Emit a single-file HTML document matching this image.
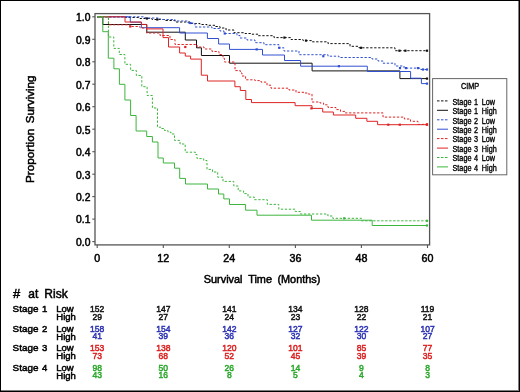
<!DOCTYPE html>
<html><head><meta charset="utf-8"><style>
html,body{margin:0;padding:0;background:#fff;}
#c{position:relative;width:520px;height:392px;overflow:hidden;background:#fff;}
svg{position:absolute;left:0;top:0;filter:blur(0.5px);}
text{font-family:"Liberation Sans",sans-serif;fill:#000;stroke:#000;stroke-width:0.5px;}
.lg text{stroke-width:0.35px;}
</style></head><body><div id="c">
<svg width="520" height="392" viewBox="0 0 520 392">
<rect x="0.5" y="0.5" width="519" height="391" fill="#fff" stroke="#000" stroke-width="1"/>
<path d="M518.5 1V391M1 390.5H519" stroke="#000" stroke-width="1" opacity="0.5"/>
<g fill="none" stroke-width="1" stroke-linecap="butt">
<path d="M97.2 16.8H125.0V17.5H140.0V18.5H152.0V19.5H165.0V20.5H175.0V22.0H190.0V23.5H200.0V24.5H207.0V25.3H215.0V26.5H220.0V28.0H226.0V30.0H234.0V32.7H245.0V33.5H252.0V34.2H258.0V35.7H274.0V37.6H291.0V39.5H303.0V40.6H312.0V41.8H328.0V43.6H350.0V46.3H359.0V47.8H395.0V50.7H427.5" stroke="#111" stroke-dasharray="2.3 1.7"/>
<rect x="425.9" y="49.6" width="2.2" height="2.2" fill="#111" stroke="none"/>
<path d="M97.2 16.8H102.8V24.5H146.8V32.2H185.3V40.0H196.5V47.8H201.4V55.5H229.5V63.2H312.1V70.9H399.9V78.6H427.5" stroke="#111"/>
<rect x="425.9" y="77.5" width="2.2" height="2.2" fill="#111" stroke="none"/>
<path d="M97.2 16.8H145.0V18.0H160.0V19.5H175.0V21.0H188.0V23.0H195.0V27.0H212.0V28.5H220.0V31.0H224.0V33.5H237.0V35.5H240.0V38.0H247.0V40.0H255.0V42.7H264.0V44.7H279.0V47.8H284.0V51.0H299.0V54.7H328.0V56.2H339.0V57.5H372.0V59.0H378.0V61.0H383.0V63.2H395.0V66.0H404.0V68.1H420.0V69.5H427.5" stroke="#3050d0" stroke-dasharray="2.3 1.7"/>
<rect x="425.9" y="68.4" width="2.2" height="2.2" fill="#3050d0" stroke="none"/>
<path d="M97.2 16.8H130.3V22.2H141.4V27.7H179.6V33.0H207.4V38.5H218.6V44.0H229.5V49.4H262.5V55.0H284.5V60.5H300.6V66.2H367.3V71.5H410.6V78.2H421.4V83.6H427.5" stroke="#3050d0"/>
<rect x="425.9" y="82.5" width="2.2" height="2.2" fill="#3050d0" stroke="none"/>
<path d="M97.2 16.8H108.5V24.8H130.0V26.5H140.0V28.0H146.5V33.0H160.0V35.5H170.0V39.5H175.0V44.5H197.0V47.0H204.0V49.0H212.0V51.5H219.0V54.5H223.0V58.4H224.5V62.0H234.9V64.0H235.0V70.6H240.3V73.0H242.0V76.0H245.6V79.8H255.0V80.6H261.0V82.1H267.0V85.2H271.0V88.2H289.0V90.0H296.0V92.3H305.0V93.0H308.4V94.1H312.0V102.0H320.0V103.0H323.6V104.8H328.0V107.5H336.0V109.6H340.5V111.4H345.0V112.9H383.0V117.1H404.4V119.0H410.5V121.3H418.0V124.4H427.5" stroke="#de2424" stroke-dasharray="2.3 1.7"/>
<rect x="425.9" y="123.3" width="2.2" height="2.2" fill="#de2424" stroke="none"/>
<path d="M97.2 16.8H125.0V22.0H141.4V24.4H146.6V28.9H163.0V37.6H168.5V47.0H179.6V53.0H185.3V56.1H190.6V59.1H201.3V75.2H207.5V81.0H234.9V86.7H240.3V90.5H245.8V99.5H251.5V102.6H295.1V105.7H312.0V108.4H322.7V112.0H333.4V115.0H355.7V118.3H366.9V121.3H377.6V124.7H427.5" stroke="#de2424"/>
<rect x="425.9" y="123.6" width="2.2" height="2.2" fill="#de2424" stroke="none"/>
<path d="M97.2 16.8H108.4V37.0H113.8V48.4H119.3V54.5H124.9V64.3H130.6V70.4H136.3V75.5H141.8V86.7H147.1V95.5H152.4V108.0H157.5V127.2H161.5V128.5H164.5V130.5H168.0V132.2H171.0V134.0H174.5V140.4H180.0V144.0H185.2V152.2H195.5V154.5H197.0V158.6H203.7V160.5H207.0V169.4H212.5V172.0H217.7V177.2H223.0V181.4H233.8V186.0H238.2V190.9H243.6V193.6H248.0V197.1H254.3V199.7H267.3V204.4H278.8V209.2H295.2V211.5H300.4V214.0H327.9V216.0H332.7V218.3H361.4V220.8H427.5" stroke="#3db53d" stroke-dasharray="2.3 1.7"/>
<rect x="425.9" y="219.7" width="2.2" height="2.2" fill="#3db53d" stroke="none"/>
<path d="M97.2 16.8H102.8V31.7H108.3V58.2H113.9V68.8H119.4V84.3H124.9V100.0H130.6V115.5H136.1V131.0H146.7V136.5H152.4V142.0H158.0V158.0H163.3V163.0H174.5V168.2H179.7V178.4H185.5V184.0H207.5V189.0H218.5V194.0H223.8V198.9H229.5V204.5H245.6V210.2H257.0V215.2H311.5V220.2H372.2V225.5H427.5" stroke="#3db53d"/>
<rect x="425.9" y="224.4" width="2.2" height="2.2" fill="#3db53d" stroke="none"/>
<rect x="145.8" y="17.4" width="2.2" height="2.2" fill="#111" stroke="none"/>
<rect x="156.2" y="18.4" width="2.2" height="2.2" fill="#111" stroke="none"/>
<rect x="283.3" y="36.5" width="2.2" height="2.2" fill="#111" stroke="none"/>
<rect x="304.9" y="39.5" width="2.2" height="2.2" fill="#111" stroke="none"/>
<rect x="359.9" y="46.7" width="2.2" height="2.2" fill="#111" stroke="none"/>
<rect x="398.3" y="49.6" width="2.2" height="2.2" fill="#111" stroke="none"/>
<rect x="404.3" y="49.6" width="2.2" height="2.2" fill="#111" stroke="none"/>
<rect x="189.1" y="21.9" width="2.2" height="2.2" fill="#3050d0" stroke="none"/>
<rect x="223.7" y="32.4" width="2.2" height="2.2" fill="#3050d0" stroke="none"/>
<rect x="278.1" y="46.7" width="2.2" height="2.2" fill="#3050d0" stroke="none"/>
<rect x="322.2" y="55.1" width="2.2" height="2.2" fill="#3050d0" stroke="none"/>
<rect x="398.9" y="67.0" width="2.2" height="2.2" fill="#3050d0" stroke="none"/>
<rect x="404.9" y="67.0" width="2.2" height="2.2" fill="#3050d0" stroke="none"/>
<rect x="416.9" y="67.0" width="2.2" height="2.2" fill="#3050d0" stroke="none"/>
<rect x="421.9" y="68.4" width="2.2" height="2.2" fill="#3050d0" stroke="none"/>
<rect x="255.6" y="48.3" width="2.2" height="2.2" fill="#3050d0" stroke="none"/>
<rect x="337.8" y="65.1" width="2.2" height="2.2" fill="#3050d0" stroke="none"/>
<rect x="310.3" y="107.3" width="2.2" height="2.2" fill="#de2424" stroke="none"/>
<rect x="387.2" y="123.6" width="2.2" height="2.2" fill="#de2424" stroke="none"/>
<rect x="398.7" y="123.6" width="2.2" height="2.2" fill="#de2424" stroke="none"/>
<rect x="129.2" y="25.4" width="2.2" height="2.2" fill="#de2424" stroke="none"/>
<rect x="184.2" y="45.9" width="2.2" height="2.2" fill="#de2424" stroke="none"/>
<rect x="343.1" y="217.2" width="2.2" height="2.2" fill="#3db53d" stroke="none"/>
</g>
<rect x="95" y="13.6" width="334.6" height="231.3" fill="none" stroke="#555" stroke-width="1.3"/>
<g stroke="#555" stroke-width="1.1" fill="none">
<path d="M92.3 241.6H95"/>
<path d="M92.3 219.1H95"/>
<path d="M92.3 196.6H95"/>
<path d="M92.3 174.2H95"/>
<path d="M92.3 151.7H95"/>
<path d="M92.3 129.2H95"/>
<path d="M92.3 106.7H95"/>
<path d="M92.3 84.2H95"/>
<path d="M92.3 61.8H95"/>
<path d="M92.3 39.3H95"/>
<path d="M92.3 16.8H95"/>
<path d="M97.2 244.9V248"/>
<path d="M163.3 244.9V248"/>
<path d="M229.3 244.9V248"/>
<path d="M295.4 244.9V248"/>
<path d="M361.4 244.9V248"/>
<path d="M427.5 244.9V248"/>
</g>
<g font-size="10.3px">
<text x="90.4" y="245.9" text-anchor="end">0.0</text>
<text x="90.4" y="223.4" text-anchor="end">0.1</text>
<text x="90.4" y="200.9" text-anchor="end">0.2</text>
<text x="90.4" y="178.5" text-anchor="end">0.3</text>
<text x="90.4" y="156.0" text-anchor="end">0.4</text>
<text x="90.4" y="133.5" text-anchor="end">0.5</text>
<text x="90.4" y="111.0" text-anchor="end">0.6</text>
<text x="90.4" y="88.5" text-anchor="end">0.7</text>
<text x="90.4" y="66.1" text-anchor="end">0.8</text>
<text x="90.4" y="43.6" text-anchor="end">0.9</text>
<text x="90.4" y="21.1" text-anchor="end">1.0</text>
</g>
<g font-size="10.7px">
<text x="97.2" y="261.8" text-anchor="middle">0</text>
<text x="163.3" y="261.8" text-anchor="middle">12</text>
<text x="229.3" y="261.8" text-anchor="middle">24</text>
<text x="295.4" y="261.8" text-anchor="middle">36</text>
<text x="361.4" y="261.8" text-anchor="middle">48</text>
<text x="427.5" y="261.8" text-anchor="middle">60</text>
</g>
<g font-size="10.9px">
<text x="203.8" y="282.5">Survival</text><text x="248.2" y="282.5">Time</text><text x="277.4" y="282.5">(Months)</text>
</g>
<g font-size="11.6px" transform="translate(34.4 0) rotate(-90)">
<text x="-183.0" y="0" textLength="54.2" lengthAdjust="spacingAndGlyphs">Proportion</text><text x="-123.2" y="0">Surviving</text>
</g>
<rect x="432.6" y="78.6" width="74.2" height="96.2" fill="none" stroke="#666" stroke-width="1"/>
<g fill="none" stroke-width="1">
<path d="M437 100.9H448" stroke="#111" stroke-dasharray="2.5 1.5"/>
<path d="M437 110.3H448" stroke="#111"/>
<path d="M437 119.8H448" stroke="#3050d0" stroke-dasharray="2.5 1.5"/>
<path d="M437 129.2H448" stroke="#3050d0"/>
<path d="M437 138.6H448" stroke="#de2424" stroke-dasharray="2.5 1.5"/>
<path d="M437 148.1H448" stroke="#de2424"/>
<path d="M437 157.5H448" stroke="#3db53d" stroke-dasharray="2.5 1.5"/>
<path d="M437 166.9H448" stroke="#3db53d"/>
</g>
<g font-size="8.3px" class="lg">
<text transform="translate(470.1 89.2) scale(0.88 1)" text-anchor="middle">CIMP</text>
<text transform="translate(452.5 104.70) scale(0.875 1)">Stage</text><text transform="translate(474.0 104.70) scale(0.875 1)">1</text><text transform="translate(481.8 104.70) scale(0.875 1)">Low</text>
<text transform="translate(452.5 114.13) scale(0.875 1)">Stage</text><text transform="translate(474.0 114.13) scale(0.875 1)">1</text><text transform="translate(481.8 114.13) scale(0.875 1)">High</text>
<text transform="translate(452.5 123.56) scale(0.875 1)">Stage</text><text transform="translate(474.0 123.56) scale(0.875 1)">2</text><text transform="translate(481.8 123.56) scale(0.875 1)">Low</text>
<text transform="translate(452.5 132.99) scale(0.875 1)">Stage</text><text transform="translate(474.0 132.99) scale(0.875 1)">2</text><text transform="translate(481.8 132.99) scale(0.875 1)">High</text>
<text transform="translate(452.5 142.42) scale(0.875 1)">Stage</text><text transform="translate(474.0 142.42) scale(0.875 1)">3</text><text transform="translate(481.8 142.42) scale(0.875 1)">Low</text>
<text transform="translate(452.5 151.85) scale(0.875 1)">Stage</text><text transform="translate(474.0 151.85) scale(0.875 1)">3</text><text transform="translate(481.8 151.85) scale(0.875 1)">High</text>
<text transform="translate(452.5 161.28) scale(0.875 1)">Stage</text><text transform="translate(474.0 161.28) scale(0.875 1)">4</text><text transform="translate(481.8 161.28) scale(0.875 1)">Low</text>
<text transform="translate(452.5 170.71) scale(0.875 1)">Stage</text><text transform="translate(474.0 170.71) scale(0.875 1)">4</text><text transform="translate(481.8 170.71) scale(0.875 1)">High</text>
</g>
<g font-size="12px">
<text x="13.0" y="297.5" style="font-size:13px">#</text><text x="28.3" y="297.5">at</text><text x="44.3" y="297.5">Risk</text>
</g>
<g font-size="9.5px">
<text x="12.6" y="312.2" style="font-size:9.9px">Stage</text><text x="42.0" y="312.2">1</text>
<text x="56.3" y="312.2">Low</text>
<text x="56.3" y="320.0">High</text>
<g transform="translate(97.2 0) scale(0.9 1)"><text x="0" y="312.2" text-anchor="middle" style="fill:#111;stroke:#111">152</text>
<text x="0" y="320.0" text-anchor="middle" style="fill:#111;stroke:#111">29</text></g>
<g transform="translate(163.3 0) scale(0.9 1)"><text x="0" y="312.2" text-anchor="middle" style="fill:#111;stroke:#111">147</text>
<text x="0" y="320.0" text-anchor="middle" style="fill:#111;stroke:#111">27</text></g>
<g transform="translate(229.3 0) scale(0.9 1)"><text x="0" y="312.2" text-anchor="middle" style="fill:#111;stroke:#111">141</text>
<text x="0" y="320.0" text-anchor="middle" style="fill:#111;stroke:#111">24</text></g>
<g transform="translate(295.4 0) scale(0.9 1)"><text x="0" y="312.2" text-anchor="middle" style="fill:#111;stroke:#111">134</text>
<text x="0" y="320.0" text-anchor="middle" style="fill:#111;stroke:#111">23</text></g>
<g transform="translate(361.4 0) scale(0.9 1)"><text x="0" y="312.2" text-anchor="middle" style="fill:#111;stroke:#111">128</text>
<text x="0" y="320.0" text-anchor="middle" style="fill:#111;stroke:#111">22</text></g>
<g transform="translate(427.5 0) scale(0.9 1)"><text x="0" y="312.2" text-anchor="middle" style="fill:#111;stroke:#111">119</text>
<text x="0" y="320.0" text-anchor="middle" style="fill:#111;stroke:#111">21</text></g>
<text x="12.6" y="331.7" style="font-size:9.9px">Stage</text><text x="42.0" y="331.7">2</text>
<text x="56.3" y="331.7">Low</text>
<text x="56.3" y="339.5">High</text>
<g transform="translate(97.2 0) scale(0.9 1)"><text x="0" y="331.7" text-anchor="middle" style="fill:#2a30b4;stroke:#2a30b4">158</text>
<text x="0" y="339.5" text-anchor="middle" style="fill:#2a30b4;stroke:#2a30b4">41</text></g>
<g transform="translate(163.3 0) scale(0.9 1)"><text x="0" y="331.7" text-anchor="middle" style="fill:#2a30b4;stroke:#2a30b4">154</text>
<text x="0" y="339.5" text-anchor="middle" style="fill:#2a30b4;stroke:#2a30b4">39</text></g>
<g transform="translate(229.3 0) scale(0.9 1)"><text x="0" y="331.7" text-anchor="middle" style="fill:#2a30b4;stroke:#2a30b4">142</text>
<text x="0" y="339.5" text-anchor="middle" style="fill:#2a30b4;stroke:#2a30b4">36</text></g>
<g transform="translate(295.4 0) scale(0.9 1)"><text x="0" y="331.7" text-anchor="middle" style="fill:#2a30b4;stroke:#2a30b4">127</text>
<text x="0" y="339.5" text-anchor="middle" style="fill:#2a30b4;stroke:#2a30b4">32</text></g>
<g transform="translate(361.4 0) scale(0.9 1)"><text x="0" y="331.7" text-anchor="middle" style="fill:#2a30b4;stroke:#2a30b4">122</text>
<text x="0" y="339.5" text-anchor="middle" style="fill:#2a30b4;stroke:#2a30b4">30</text></g>
<g transform="translate(427.5 0) scale(0.9 1)"><text x="0" y="331.7" text-anchor="middle" style="fill:#2a30b4;stroke:#2a30b4">107</text>
<text x="0" y="339.5" text-anchor="middle" style="fill:#2a30b4;stroke:#2a30b4">27</text></g>
<text x="12.6" y="351.2" style="font-size:9.9px">Stage</text><text x="42.0" y="351.2">3</text>
<text x="56.3" y="351.2">Low</text>
<text x="56.3" y="359.0">High</text>
<g transform="translate(97.2 0) scale(0.9 1)"><text x="0" y="351.2" text-anchor="middle" style="fill:#dc1e1e;stroke:#dc1e1e">153</text>
<text x="0" y="359.0" text-anchor="middle" style="fill:#dc1e1e;stroke:#dc1e1e">73</text></g>
<g transform="translate(163.3 0) scale(0.9 1)"><text x="0" y="351.2" text-anchor="middle" style="fill:#dc1e1e;stroke:#dc1e1e">138</text>
<text x="0" y="359.0" text-anchor="middle" style="fill:#dc1e1e;stroke:#dc1e1e">68</text></g>
<g transform="translate(229.3 0) scale(0.9 1)"><text x="0" y="351.2" text-anchor="middle" style="fill:#dc1e1e;stroke:#dc1e1e">120</text>
<text x="0" y="359.0" text-anchor="middle" style="fill:#dc1e1e;stroke:#dc1e1e">52</text></g>
<g transform="translate(295.4 0) scale(0.9 1)"><text x="0" y="351.2" text-anchor="middle" style="fill:#dc1e1e;stroke:#dc1e1e">101</text>
<text x="0" y="359.0" text-anchor="middle" style="fill:#dc1e1e;stroke:#dc1e1e">45</text></g>
<g transform="translate(361.4 0) scale(0.9 1)"><text x="0" y="351.2" text-anchor="middle" style="fill:#dc1e1e;stroke:#dc1e1e">85</text>
<text x="0" y="359.0" text-anchor="middle" style="fill:#dc1e1e;stroke:#dc1e1e">39</text></g>
<g transform="translate(427.5 0) scale(0.9 1)"><text x="0" y="351.2" text-anchor="middle" style="fill:#dc1e1e;stroke:#dc1e1e">77</text>
<text x="0" y="359.0" text-anchor="middle" style="fill:#dc1e1e;stroke:#dc1e1e">35</text></g>
<text x="12.6" y="370.7" style="font-size:9.9px">Stage</text><text x="42.0" y="370.7">4</text>
<text x="56.3" y="370.7">Low</text>
<text x="56.3" y="378.5">High</text>
<g transform="translate(97.2 0) scale(0.9 1)"><text x="0" y="370.7" text-anchor="middle" style="fill:#2aa82a;stroke:#2aa82a">98</text>
<text x="0" y="378.5" text-anchor="middle" style="fill:#2aa82a;stroke:#2aa82a">43</text></g>
<g transform="translate(163.3 0) scale(0.9 1)"><text x="0" y="370.7" text-anchor="middle" style="fill:#2aa82a;stroke:#2aa82a">50</text>
<text x="0" y="378.5" text-anchor="middle" style="fill:#2aa82a;stroke:#2aa82a">16</text></g>
<g transform="translate(229.3 0) scale(0.9 1)"><text x="0" y="370.7" text-anchor="middle" style="fill:#2aa82a;stroke:#2aa82a">26</text>
<text x="0" y="378.5" text-anchor="middle" style="fill:#2aa82a;stroke:#2aa82a">8</text></g>
<g transform="translate(295.4 0) scale(0.9 1)"><text x="0" y="370.7" text-anchor="middle" style="fill:#2aa82a;stroke:#2aa82a">14</text>
<text x="0" y="378.5" text-anchor="middle" style="fill:#2aa82a;stroke:#2aa82a">5</text></g>
<g transform="translate(361.4 0) scale(0.9 1)"><text x="0" y="370.7" text-anchor="middle" style="fill:#2aa82a;stroke:#2aa82a">9</text>
<text x="0" y="378.5" text-anchor="middle" style="fill:#2aa82a;stroke:#2aa82a">4</text></g>
<g transform="translate(427.5 0) scale(0.9 1)"><text x="0" y="370.7" text-anchor="middle" style="fill:#2aa82a;stroke:#2aa82a">8</text>
<text x="0" y="378.5" text-anchor="middle" style="fill:#2aa82a;stroke:#2aa82a">3</text></g>
</g>
</svg>
</div></body></html>
